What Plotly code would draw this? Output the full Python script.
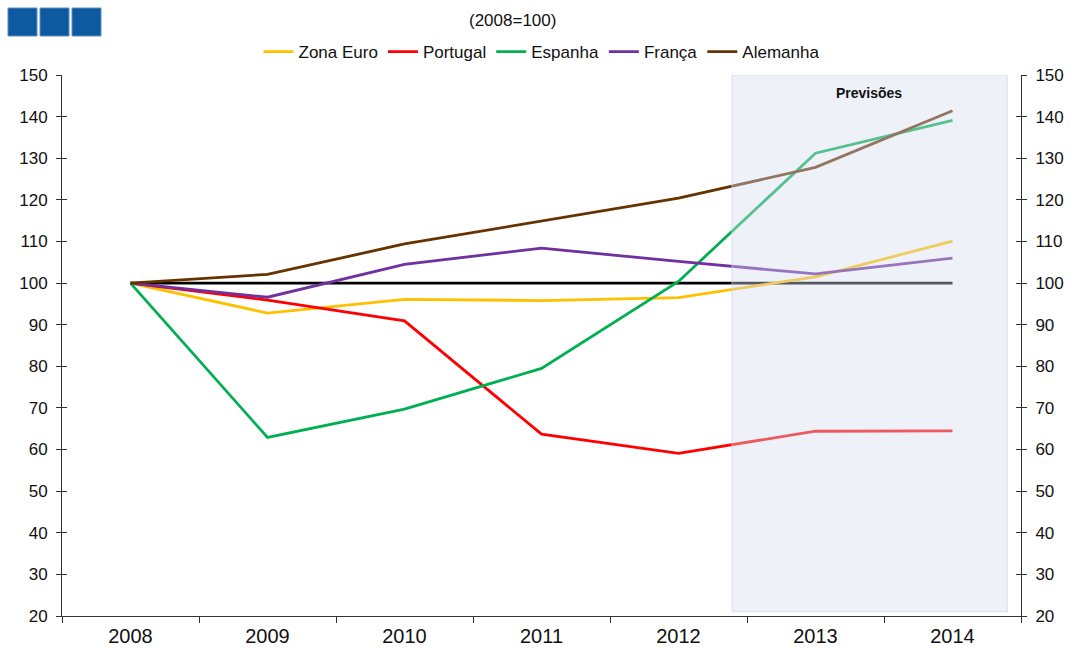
import plotly.graph_objects as go

years = ["2008", "2009", "2010", "2011", "2012", "2013", "2014"]
zona_euro = [100, 92.8, 96.1, 95.8, 96.5, 101.5, 110.1]
portugal = [100, 95.9, 90.9, 63.7, 59.1, 64.4, 64.5]
espanha = [100, 62.9, 69.7, 79.5, 100.4, 131.2, 139.1]
franca = [100, 96.6, 104.5, 108.4, 105.2, 102.2, 106.0]
alemanha = [100, 102.1, 109.4, 114.9, 120.4, 127.8, 141.4]
base = [100] * 7

series = [
    ("Zona Euro", zona_euro, "#FFC000"),
    ("Portugal", portugal, "#FF0000"),
    ("Espanha", espanha, "#00B050"),
    ("França", franca, "#7030A0"),
    ("Alemanha", alemanha, "#663300"),
]

W, H = 1071, 648
L, R, T, B = 62, 1021, 75, 616
FONT = "Liberation Sans, Arial, sans-serif"

fig = go.Figure()
fig.add_trace(go.Scatter(x=years, y=base, mode="lines", line=dict(color="black", width=2.8),
                         showlegend=False, hoverinfo="skip"))
for name, vals, col in series:
    fig.add_trace(go.Scatter(x=years, y=vals, mode="lines", name=name,
                             line=dict(color=col, width=2.8)))
# invisible traces so the extra axes are drawn
for ax in ("y2", "y3", "y4"):
    fig.add_trace(go.Scatter(x=years, y=base, yaxis=ax, mode="lines",
                             line=dict(color="rgba(0,0,0,0)", width=0), showlegend=False,
                             hoverinfo="skip"))

def px(xp):
    return (xp - L) / (R - L)

def py(yp):
    return (B - yp) / (B - T)

shapes = [
    dict(type="rect", xref="x", yref="y", x0=4.39, x1=6.40, y0=21, y1=150,
         fillcolor="rgba(212,220,237,0.4)", line=dict(color="rgba(200,212,232,0.6)", width=1),
         layer="above"),
]
for x0 in (8, 40, 72):
    shapes.append(dict(type="rect", xref="paper", yref="paper",
                       x0=px(x0), x1=px(x0 + 29), y0=py(36), y1=py(8),
                       fillcolor="#0E5AA0", line=dict(color="#5B8FC0", width=1)))

axis_font = dict(family=FONT, size=17, color="#111")
ycommon = dict(range=[20, 150], dtick=10, ticklen=5, tickcolor="#333", showline=True,
               linecolor="#333", linewidth=1, showgrid=False, zeroline=False, automargin=False)

fig.update_layout(
    width=W, height=H,
    margin=dict(l=L, r=W - R, t=T, b=H - B, autoexpand=False),
    plot_bgcolor="white", paper_bgcolor="white",
    font=dict(family=FONT, color="#111"),
    xaxis=dict(type="category", range=[-0.5, 6.5], tickson="boundaries", ticks="outside",
               ticklen=6, tickcolor="#333", showline=True, linecolor="#333", linewidth=1,
               showgrid=False, ticklabelstandoff=2, automargin=False,
               tickfont=dict(family=FONT, size=20, color="#111")),
    yaxis=dict(**ycommon, ticks="outside", tickfont=axis_font, ticklabelstandoff=5),
    yaxis2=dict(**ycommon, ticks="outside", overlaying="y", side="right", tickfont=axis_font,
                ticklabelstandoff=5),
    yaxis3=dict(**ycommon, ticks="inside", overlaying="y", side="left", showticklabels=False),
    yaxis4=dict(**ycommon, ticks="inside", overlaying="y", side="right", showticklabels=False),
    legend=dict(orientation="h", x=0.5, xanchor="center", y=py(52), yanchor="middle",
                font=dict(family=FONT, size=17, color="#111"),
                itemwidth=30, tracegroupgap=0),
    shapes=shapes,
    annotations=[
        dict(text="(2008=100)", xref="paper", yref="paper", x=px(512), y=py(20),
             showarrow=False, xanchor="center", yanchor="middle",
             font=dict(family=FONT, size=17, color="#111")),
        dict(text="<b>Previsões</b>", xref="x", yref="y", x=5.39, y=145.7,
             showarrow=False, xanchor="center", yanchor="middle",
             font=dict(family=FONT, size=14, color="#111")),
    ],
)

fig.write_html("out.html", config={"displayModeBar": False},
               post_script="document.body.style.margin='0';document.body.style.overflow='hidden';")
